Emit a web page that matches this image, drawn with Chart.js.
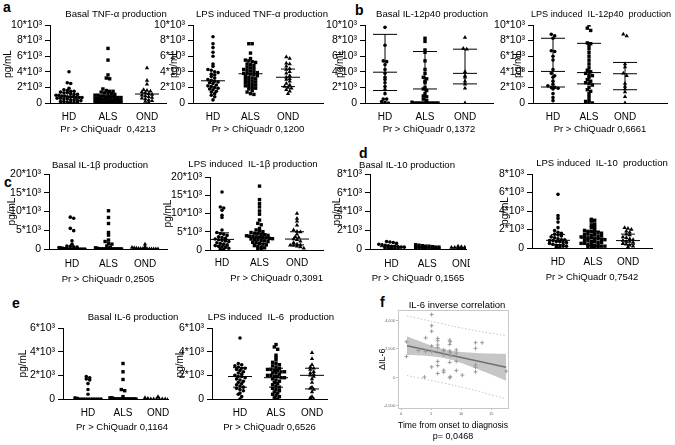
<!DOCTYPE html>
<html><head><meta charset="utf-8">
<script src="https://cdn.jsdelivr.net/npm/chart.js@4.4.0/dist/chart.umd.min.js"></script>
<style>
html,body{margin:0;padding:0;background:#fff;}
body{width:675px;height:445px;position:relative;overflow:hidden;font-family:"Liberation Sans",Arial,sans-serif;}
.lt{position:absolute;font-weight:bold;font-size:14px;line-height:14px;font-family:"Liberation Sans",Arial,sans-serif;color:#000;}
</style></head><body>
<div class="lt" style="left:3px;top:0px">a</div>
<div class="lt" style="left:355px;top:3px">b</div>
<div class="lt" style="left:4px;top:175px">c</div>
<div class="lt" style="left:359px;top:146px">d</div>
<div class="lt" style="left:12px;top:296px">e</div>
<div class="lt" style="left:380px;top:295px">f</div>
<script>
// ---------------- DATA ----------------
const groups = ['HD', 'ALS', 'OND'];
const ticks10k = [0, 2000, 4000, 6000, 8000, 10000];
const ticks20k = [0, 5000, 10000, 15000, 20000];
const ticks8k = [0, 2000, 4000, 6000, 8000];
const ticks6k = [0, 2000, 4000, 6000];

// a: TNF-alpha
const tnfBasalHD = [4000, 2600, 2500, 1900, 1700, 1600, 1500, 1500, 1400, 1300, 1300, 1200, 1100, 1100, 1000, 1000, 900, 900, 800, 800, 800, 700, 700, 700, 600, 600, 500, 500, 400, 400, 300, 300, 200, 200, 100, 100, 50, 50];
const tnfBasalALS = [7000, 5500, 3600, 3200, 3100, 1800, 1600, 1500, 1500, 1400, 1300, 1200, 1200, 1100, 1000, 1000, 900, 900, 800, 800, 800, 700, 700, 700, 600, 600, 600, 500, 500, 500, 400, 400, 400, 300, 300, 300, 300, 200, 200, 200, 200, 100, 100, 100, 100, 50, 50, 50, 50, 0, 0];
const tnfBasalOND = [4500, 2900, 2400, 1700, 1600, 1500, 1400, 1300, 1200, 1100, 1000, 900, 800, 700, 600, 500, 400, 300, 200, 100];
const tnfBasalMed = [770, 450, 1150];

const tnfLpsHD = [8500, 7600, 7100, 6500, 6000, 5000, 4700, 4300, 4200, 4000, 3900, 3700, 3600, 3400, 3200, 3000, 2900, 2800, 2700, 2600, 2500, 2300, 2200, 2100, 2000, 1900, 1800, 1700, 1500, 1400, 1200, 1000, 800, 400];
const tnfLpsALS = [7600, 7600, 6400, 5700, 5500, 5400, 5300, 5200, 5000, 4900, 4800, 4600, 4500, 4400, 4300, 4200, 4100, 4000, 3900, 3800, 3800, 3700, 3600, 3500, 3400, 3300, 3200, 3100, 3000, 2900, 2800, 2700, 2600, 2500, 2400, 2300, 2200, 2100, 2000, 1900, 1800, 1600, 1400, 1200, 1100];
const tnfLpsOND = [5900, 5700, 5100, 5000, 4700, 4400, 4300, 4000, 3800, 3500, 3300, 3100, 3000, 2800, 2500, 2300, 2100, 2000, 1900, 1700, 1500, 1200];
const tnfLpsMed = [2850, 3750, 3300];
const tnfLpsQ1 = [null, null, 2100];
const tnfLpsQ3 = [null, null, 4350];

// b: IL-12p40
const il12BasalHD = [9700, 7400, 5400, 5300, 4900, 4300, 3800, 3300, 3000, 2600, 2100, 1700, 1200, 500, 500, 200, 100, 0];
const il12BasalALS = [8300, 7900, 6800, 6500, 5400, 4300, 3800, 3300, 3100, 2800, 2600, 2000, 1800, 1600, 1200, 900, 800, 500, 300, 100, 0, 0, 0, 0, 0, 0, 0, 0, 0];
const il12BasalOND = [8400, 7000, 6900, 4000, 3500, 3300, 2800, 2400, 1900, 0];
const il12BasalLo = [1600, 0, 2450];
const il12BasalMed = [3950, 1800, 3800];
const il12BasalHi = [8800, 6600, 6900];

const il12LpsHD = [8800, 8600, 8300, 6700, 6600, 6000, 5500, 4300, 3800, 3500, 3300, 2800, 2400, 2200, 2000, 2000, 1900, 1800, 1200, 700, 300];
const il12LpsALS = [10000, 9600, 9300, 7700, 7600, 7400, 7000, 6500, 6000, 5500, 5000, 4500, 4200, 4000, 3800, 3600, 3500, 3300, 3000, 2800, 2600, 2500, 2300, 2000, 1700, 1500, 1200, 800, 400, 200, 100, 0];
const il12LpsOND = [8800, 8600, 5000, 4600, 3800, 3500, 2500, 2100, 1800, 1400, 800, 0];
const il12LpsLo = [2050, 2450, 1700];
const il12LpsMed = [4050, 3900, 3750];
const il12LpsHi = [8300, 7650, 5200];

// c: IL-1beta
const il1BasalHD = [8500, 8200, 5500, 4900, 2200, 1300, 800, 700, 600, 500, 400, 300, 200, 100, 50, 0, 0, 0, 0, 0, 0, 0, 0];
const il1BasalALS = [10200, 8400, 6800, 4400, 3700, 2400, 2000, 1500, 1300, 800, 500, 300, 200, 100, 0, 0, 0, 0, 0, 0, 0, 0, 0, 0, 0, 0, 0, 0, 0, 0];
const il1BasalOND = [1300, 600, 400, 300, 200, 150, 100, 50, 0, 0, 0, 0, 0, 0, 0];

const il1LpsHD = [15900, 11800, 11500, 10900, 9500, 8900, 5500, 4800, 4500, 4300, 4000, 3600, 3400, 3200, 3000, 2800, 2700, 2500, 2300, 2000, 1800, 1600, 1400, 1200, 1000, 900, 700, 500, 300, 100];
const il1LpsALS = [17500, 13800, 12700, 11800, 10700, 9800, 8200, 7300, 6900, 5900, 5500, 5200, 5000, 4800, 4600, 4500, 4300, 4200, 4000, 3900, 3800, 3700, 3600, 3500, 3400, 3300, 3200, 3100, 3000, 2900, 2800, 2600, 2500, 2300, 2100, 2000, 1800, 1600, 1400, 1200, 1000, 800, 600, 400, 200];
const il1LpsOND = [10000, 8600, 7900, 6800, 5500, 5100, 4900, 4300, 3600, 3400, 3000, 2800, 2400, 2000, 1600, 1400, 1300, 1200, 1000, 800, 500];
const il1LpsQ1 = [1100, 1800, 1400];
const il1LpsMed = [2900, 3400, 3000];
const il1LpsQ3 = [4700, 4500, 5000];

// d: IL-10
const il10BasalHD = [800, 750, 700, 600, 500, 450, 400, 350, 300, 300, 250, 200, 200, 150, 100, 100, 50, 0];
const il10BasalALS = [450, 400, 350, 300, 300, 250, 200, 200, 150, 150, 100, 100, 50, 50, 0, 0];
const il10BasalOND = [300, 250, 200, 200, 150, 150, 100, 100, 50, 50, 0, 0];
const il10BasalMed = [250, 150, 120];

const il10LpsHD = [5800, 3500, 3200, 2800, 2200, 1900, 1700, 1600, 1500, 1400, 1300, 1200, 1100, 1000, 900, 900, 800, 800, 700, 700, 600, 600, 500, 400, 300, 300, 200, 200, 100, 50];
const il10LpsALS = [3100, 3000, 2900, 2600, 2500, 2300, 2200, 2000, 1900, 1800, 1800, 1700, 1700, 1600, 1500, 1500, 1400, 1400, 1300, 1300, 1200, 1200, 1100, 1100, 1000, 1000, 900, 900, 800, 800, 700, 700, 600, 600, 500, 500, 400, 400, 300, 300, 200, 200, 100, 100, 50, 50];
const il10LpsOND = [2200, 2100, 2000, 1800, 1700, 1500, 1400, 1200, 1100, 1000, 900, 800, 700, 700, 600, 500, 400, 300, 200, 100];
const il10LpsQ1 = [360, 250, 400];
const il10LpsMed = [830, 1050, 800];
const il10LpsQ3 = [1450, 1800, 1500];

// e: IL-6
const il6BasalHD = [1900, 1800, 1700, 1600, 1300, 800, 400, 100, 50, 0, 0, 0, 0, 0, 0, 0, 0, 0, 0];
const il6BasalALS = [3000, 2300, 1650, 800, 700, 200, 100, 100, 50, 0, 0, 0, 0, 0, 0, 0, 0, 0, 0, 0, 0, 0, 0];
const il6BasalOND = [200, 100, 50, 0, 0, 0, 0, 0, 0, 0, 0];

const il6LpsHD = [5150, 3000, 2900, 2800, 2700, 2600, 2600, 2500, 2400, 2300, 2200, 2100, 2000, 1900, 1900, 1800, 1700, 1600, 1500, 1400, 1300, 1200, 1100, 1000, 900, 800, 700, 500, 400, 200, 0];
const il6LpsALS = [4600, 4400, 4200, 3700, 3500, 3300, 3100, 3000, 2900, 2800, 2700, 2600, 2500, 2500, 2400, 2400, 2300, 2300, 2200, 2200, 2100, 2000, 2000, 1900, 1900, 1800, 1800, 1700, 1600, 1500, 1400, 1300, 1200, 1100, 1000, 900, 800, 700, 600, 500, 400, 300, 200, 100, 0];
const il6LpsOND = [3900, 3400, 2900, 2700, 2600, 2500, 2300, 2200, 2100, 2000, 1900, 1700, 1400, 1000, 900, 800, 600, 200, 100, 0];
const il6LpsQ1 = [1000, 1000, 850];
const il6LpsMed = [1900, 1800, 2000];
const il6LpsQ3 = [2650, 2600, 2600];

// f: IL-6 correlation
const corrTime = [0.9, 0.9, 2.9, 4.1, 4.1, 3.9, 5.1, 5.1, 5.1, 5.1, 5.1, 5.1, 6.1, 6.1, 6.1, 6.1, 6.1, 6.1, 6.1, 7.1, 7.1, 7.1, 7.1, 7.1, 8.1, 8.1, 8.2, 8.1, 8.2, 8.2, 8.1, 8.2, 8.1, 9.2, 9.2, 9.2, 9.2, 10.2, 12.4, 12.4, 12.4, 12.4, 12.4, 13.5, 17.5];
const corrDIL6 = [2506, 1470, 1885, 2780, 1816, 22, 4415, 3633, 3242, 2207, 1816, 735, 2736, 2575, 2276, 2092, 1126, 827, 275, 1931, 1862, 1586, 505, 367, 2322, 2621, 2506, 1862, 1747, 1517, 1057, 45, -24, 1931, 1701, 1126, 482, 160, 2437, 2046, 873, 712, 390, 2437, 436];
const fitTime = [1, 17.5];
const fitDIL6 = [2230, 710];
const ciTime = [1, 3, 5, 7.5, 10, 12.5, 15, 17.5];
const ciHigh = [2885, 2552, 2244, 1942, 1784, 1714, 1676, 1652];
const ciLow = [1575, 1540, 1480, 1322, 1020, 630, 208, -228];
const piTime = [1, 5, 9, 13, 17.5];
const piHigh = [4330, 3942, 3566, 3236, 2932];
const piLow = [130, -218, -578, -984, -1508];
const corrXTicks = [0, 5, 10, 15];
const corrYTicks = [-2000, 0, 2000, 4000];

// ---------------- RENDERING ----------------
const F = '"Liberation Sans", Arial, sans-serif';
Chart.defaults.font.family = F;
Chart.defaults.color = '#000';

Chart.register({
  id: 'titleShift',
  afterLayout(chart, args, opts) {
    const tb = chart.titleBlock;
    if (tb && opts && opts.dx !== undefined) {
      tb.left += opts.dx - 40;
      tb.right += opts.dx + 40;
    }
  }
});

function fmtK(v) { return v === 0 ? '0' : (v / 1000) + '*10³'; }

// lay the points of one group out in rows (a dot-plot swarm), capping row width
function swarm(values, center, rowUnit, dx, maxW) {
  const rows = new Map();
  values.forEach(v => {
    const r = Math.round(v / rowUnit);
    if (!rows.has(r)) rows.set(r, []);
    rows.get(r).push(v);
  });
  const pts = [];
  rows.forEach(list => {
    const n = list.length;
    const step = n > 1 ? Math.min(dx, maxW / (n - 1)) : 0;
    list.forEach((v, i) => pts.push({ x: center + (i - (n - 1) / 2) * step, y: v }));
  });
  return pts;
}

function makeCtx(left, top, w, h) {
  const c = document.createElement('canvas');
  c.width = w; c.height = h;
  c.style.cssText = `position:absolute;left:${left}px;top:${top}px;width:${w}px;height:${h}px`;
  document.body.appendChild(c);
  return c.getContext('2d');
}

function seg(x0, x1, y0, y1) {
  return { type: 'line', data: [{ x: x0, y: y0 }, { x: x1, y: y1 }], borderColor: '#000', borderWidth: 1,
    pointRadius: 0, fill: false, tension: 0 };
}

function dotPanel(p) {
  const TF = p.titleSize || 9.6, TLH = TF;
  const YLH = 12;
  const XF = 9.5, XLH = XF * 1.2;
  const canvasLeft = Math.floor(Math.min(p.pgX - YLH / 2 - 1, p.plotL - 46));
  const canvasTop = Math.floor(p.titleY - TLH / 2);
  const tPadTop = p.titleY - TLH / 2 - canvasTop;
  const tPadBottom = Math.max(0, p.plotT - canvasTop - tPadTop - TLH);
  const Wy = p.plotL - canvasLeft;
  const padR = p.padR !== undefined ? p.padR : 6;
  const W = p.plotR + padR - canvasLeft;
  const H = Math.round(p.prY + XLH / 2 - canvasTop);
  const Hx = canvasTop + H - p.plotB;
  const pgPad = Math.max(0, p.pgX - YLH / 2 - canvasLeft);
  const unit = (p.cat[1] - p.cat[0]) / 2;
  const xmin = 1 - (p.cat[0] - p.plotL) / unit;
  const xmax = 3 + (p.plotR - p.cat[1]) / unit;
  const pxPerY = (p.plotB - p.plotT) / p.ymax;
  const rowUnit = 3.2 / pxPerY;
  const dx = 3.4 / unit;
  const maxW = 26 / unit;
  const shapes = ['circle', 'rect', 'triangle'];
  const radii = [1.8, 2.4, 2.5];
  const ds = [];
  p.groups.forEach((vals, gi) => {
    ds.push({ type: 'scatter', data: swarm(vals, gi + 1, rowUnit, dx, maxW), pointStyle: shapes[gi], pointRadius: radii[gi],
      backgroundColor: '#000', borderColor: '#000', borderWidth: 0 });
  });
  const mw = 12 / unit, qw = (p.whisker ? 12 : 7) / unit;
  for (let gi = 0; gi < 3; gi++) {
    const c = gi + 1;
    if (p.med && p.med[gi] != null) ds.push(seg(c - mw, c + mw, p.med[gi], p.med[gi]));
    if (p.q1 && p.q1[gi] != null) ds.push(seg(c - qw, c + qw, p.q1[gi], p.q1[gi]));
    if (p.q3 && p.q3[gi] != null) ds.push(seg(c - qw, c + qw, p.q3[gi], p.q3[gi]));
    if (p.whisker) ds.push(seg(c, c, p.q1[gi], p.q3[gi]));
  }
  const ctx = makeCtx(canvasLeft, canvasTop, W, H);
  const caCenter = (p.plotL + p.plotR) / 2;
  new Chart(ctx, {
    type: 'scatter',
    data: { datasets: ds },
    options: {
      responsive: false, animation: false, devicePixelRatio: 1,
      layout: { padding: { left: 0, right: padR, top: 0, bottom: 0 } },
      plugins: {
        legend: { display: false }, tooltip: { enabled: false },
        title: { display: true, text: p.title, fullSize: false, color: '#000',
          font: { size: TF, family: F, weight: 'normal', lineHeight: 1 },
          padding: { top: tPadTop, bottom: tPadBottom } },
        titleShift: { dx: p.titleX - caCenter }
      },
      scales: {
        x: {
          type: 'linear', min: xmin, max: xmax,
          afterBuildTicks: s => { s.ticks = groups.map((g, i) => ({ value: i + 1 })); },
          ticks: { autoSkip: false, maxRotation: 0, padding: p.labY - p.plotB - 6, color: '#000',
            font: { size: 10, family: F }, callback: v => groups[Math.round(v) - 1] },
          grid: { display: false, drawTicks: false },
          border: { display: true, color: '#000', width: 1 },
          title: { display: true, text: p.pr, color: '#000', font: { size: XF, family: F },
            padding: { top: 0, bottom: 0 }, align: p.prAlign || 'center' },
          afterFit: s => { s.height = Hx; s.paddingLeft = 0; s.paddingRight = 0; }
        },
        y: {
          type: 'linear', min: 0, max: p.ymax,
          afterBuildTicks: s => { s.ticks = p.yTicks.map(v => ({ value: v })); },
          ticks: { autoSkip: false, padding: 3, color: '#000', font: { size: 10.5, family: F }, callback: v => fmtK(v) },
          grid: { display: true, drawOnChartArea: false, drawTicks: true, tickLength: 5, color: '#000' },
          border: { display: true, color: '#000', width: 1 },
          title: { display: true, text: 'pg/mL', color: '#000', font: { size: 10, family: F },
            padding: { top: pgPad, bottom: 0 } },
          afterFit: s => { s.width = Wy; s.paddingTop = 0; s.paddingBottom = 0; }
        }
      }
    }
  });
}

const panels = [
  { title: 'Basal TNF-α production', pr: 'Pr > ChiQuadr  0,4213', groups: [tnfBasalHD, tnfBasalALS, tnfBasalOND],
    med: tnfBasalMed, ymax: 10000, yTicks: ticks10k,
    plotL: 50, plotR: 166, plotT: 25, plotB: 103, cat: [69, 147], titleX: 116, titleY: 14, pgX: 8, labY: 117, prY: 129 },
  { title: 'LPS induced TNF-α production', pr: 'Pr > ChiQuadr 0,1200', groups: [tnfLpsHD, tnfLpsALS, tnfLpsOND],
    med: tnfLpsMed, q1: tnfLpsQ1, q3: tnfLpsQ3, ymax: 10000, yTicks: ticks10k,
    plotL: 193, plotR: 323, plotT: 25, plotB: 103, cat: [213, 288], titleX: 262, titleY: 14, pgX: 174, labY: 117, prY: 129 },
  { title: 'Basal IL-12p40 production', pr: 'Pr > ChiQuadr 0,1372', groups: [il12BasalHD, il12BasalALS, il12BasalOND],
    med: il12BasalMed, q1: il12BasalLo, q3: il12BasalHi, whisker: true, ymax: 10000, yTicks: ticks10k,
    plotL: 365, plotR: 493, plotT: 25, plotB: 103, cat: [385, 465], titleX: 432, titleY: 14, pgX: 340, labY: 117, prY: 129 },
  { title: 'LPS induced  IL-12p40  production', pr: 'Pr > ChiQuadr 0,6661', groups: [il12LpsHD, il12LpsALS, il12LpsOND],
    med: il12LpsMed, q1: il12LpsLo, q3: il12LpsHi, whisker: true, ymax: 10000, yTicks: ticks10k,
    plotL: 533, plotR: 667, plotT: 25, plotB: 103, cat: [553, 625], titleX: 601, titleY: 14, pgX: 518, labY: 117, prY: 129, padR: 8, titleSize: 9.1 },
  { title: 'Basal IL-1β production', pr: 'Pr > ChiQuadr 0,2505', groups: [il1BasalHD, il1BasalALS, il1BasalOND],
    ymax: 20000, yTicks: ticks20k,
    plotL: 49, plotR: 167, plotT: 174, plotB: 249, cat: [72, 145], titleX: 100, titleY: 165, pgX: 12, labY: 264, prY: 279 },
  { title: 'LPS induced  IL-1β production', pr: 'Pr > ChiQuadr 0,3091', groups: [il1LpsHD, il1LpsALS, il1LpsOND],
    med: il1LpsMed, q1: il1LpsQ1, q3: il1LpsQ3, ymax: 20000, yTicks: ticks20k,
    plotL: 210, plotR: 323, plotT: 177, plotB: 250, cat: [222, 297], titleX: 253, titleY: 164, pgX: 168, labY: 263, prY: 278, prAlign: 'end', padR: 10 },
  { title: 'Basal IL-10 production', pr: 'Pr > ChiQuadr 0,1565', groups: [il10BasalHD, il10BasalALS, il10BasalOND],
    med: il10BasalMed, ymax: 8000, yTicks: ticks8k,
    plotL: 370, plotR: 468, plotT: 174, plotB: 249, cat: [392, 465], titleX: 408, titleY: 165, pgX: 337, labY: 264, prY: 278, padR: 2 },
  { title: 'LPS induced  IL-10  production', pr: 'Pr > ChiQuadr 0,7542', groups: [il10LpsHD, il10LpsALS, il10LpsOND],
    med: il10LpsMed, q1: il10LpsQ1, q3: il10LpsQ3, ymax: 8000, yTicks: ticks8k,
    plotL: 532, plotR: 652, plotT: 174, plotB: 248, cat: [558, 628], titleX: 602, titleY: 163, pgX: 505, labY: 262, prY: 277, padR: 18 },
  { title: 'Basal IL-6 production', pr: 'Pr > ChiQuadr 0,1164', groups: [il6BasalHD, il6BasalALS, il6BasalOND],
    ymax: 6000, yTicks: ticks6k,
    plotL: 63, plotR: 168, plotT: 328, plotB: 399, cat: [88, 158], titleX: 133, titleY: 317, pgX: 23, labY: 413, prY: 427, prAlign: 'end', padR: 16 },
  { title: 'LPS induced  IL-6  production', pr: 'Pr > ChiQuadr 0,6526', groups: [il6LpsHD, il6LpsALS, il6LpsOND],
    med: il6LpsMed, q1: il6LpsQ1, q3: il6LpsQ3, ymax: 6000, yTicks: ticks6k,
    plotL: 212, plotR: 327, plotT: 328, plotB: 399, cat: [240, 312], titleX: 271, titleY: 317, pgX: 180, labY: 413, prY: 427, padR: 10 }
];
panels.forEach(dotPanel);

// ---- panel f ----
(function () {
  const plotL = 398, plotR = 508, plotT = 310, plotB = 408;
  const canvasLeft = 377, canvasTop = 300, padR = 14;
  const W = plotR + padR - canvasLeft, H = 142;
  const Wy = plotL - canvasLeft, Hx = canvasTop + H - plotB;
  const pts = corrTime.map((t, i) => ({ x: t, y: corrDIL6[i] }));
  const xy = (xs, ys) => xs.map((x, i) => ({ x: x, y: ys[i] }));
  const ctx = makeCtx(canvasLeft, canvasTop, W, H);
  new Chart(ctx, {
    type: 'scatter',
    data: { datasets: [
      { type: 'scatter', data: pts, pointStyle: 'cross', pointRadius: 2, borderColor: '#9a9a9a', borderWidth: 1, backgroundColor: '#9a9a9a' },
      { type: 'line', data: xy(fitTime, fitDIL6), borderColor: '#707070', borderWidth: 1.5, pointRadius: 0, fill: false },
      { type: 'line', data: xy(piTime, piHigh), borderColor: '#c4c4c4', borderWidth: 1, borderDash: [1.5, 2], pointRadius: 0, fill: false, tension: 0.3 },
      { type: 'line', data: xy(piTime, piLow), borderColor: '#c4c4c4', borderWidth: 1, borderDash: [1.5, 2], pointRadius: 0, fill: false, tension: 0.3 },
      { type: 'line', data: xy(ciTime, ciHigh), borderWidth: 0, borderColor: 'rgba(0,0,0,0)', pointRadius: 0, fill: '+1', backgroundColor: '#c6c6c6', tension: 0.3 },
      { type: 'line', data: xy(ciTime, ciLow), borderWidth: 0, borderColor: 'rgba(0,0,0,0)', pointRadius: 0, fill: false, tension: 0.3 }
    ] },
    options: {
      responsive: false, animation: false, devicePixelRatio: 1,
      layout: { padding: { left: 0, right: padR, top: 0, bottom: 0 } },
      plugins: {
        legend: { display: false }, tooltip: { enabled: false },
        title: { display: true, text: 'IL-6 inverse correlation', fullSize: false, color: '#000',
          font: { size: 9.5, family: F, weight: 'normal', lineHeight: 1 }, padding: { top: 0.5, bottom: 0.5 } },
        titleShift: { dx: 457 - (plotL + plotR) / 2 }
      },
      scales: {
        x: {
          type: 'linear', min: -0.5, max: 17.8,
          afterBuildTicks: s => { s.ticks = corrXTicks.map(v => ({ value: v })); },
          ticks: { autoSkip: false, maxRotation: 0, padding: 1, color: '#666', font: { size: 4, family: F } },
          grid: { display: true, drawOnChartArea: false, drawTicks: true, tickLength: 2, color: '#bbb' },
          border: { display: true, color: '#c8c8c8', width: 1 },
          title: { display: true, text: ['Time from onset to diagnosis', 'p= 0,0468'], color: '#000',
            font: { size: 9, family: F }, padding: { top: 0, bottom: 0 } },
          afterFit: s => { s.height = Hx; s.paddingLeft = 0; s.paddingRight = 0; }
        },
        y: {
          type: 'linear', min: -2150, max: 4700,
          afterBuildTicks: s => { s.ticks = corrYTicks.map(v => ({ value: v })); },
          ticks: { autoSkip: false, padding: 1, color: '#666', font: { size: 4, family: F } },
          grid: { display: true, drawOnChartArea: false, drawTicks: true, tickLength: 2, color: '#bbb' },
          border: { display: true, color: '#c8c8c8', width: 1 },
          title: { display: true, text: 'ΔIL-6', color: '#000', font: { size: 9, family: F }, padding: { top: 0.6, bottom: 0 } },
          afterFit: s => { s.width = Wy; s.paddingTop = 0; s.paddingBottom = 0; }
        },
        x2: { type: 'linear', position: 'top', min: -0.5, max: 17.8, ticks: { display: false }, grid: { display: false, drawTicks: false },
          border: { display: true, color: '#c8c8c8', width: 1 }, afterFit: s => { s.height = 0; s.paddingLeft = 0; s.paddingRight = 0; } },
        y2: { type: 'linear', position: 'right', min: -2150, max: 4700, ticks: { display: false }, grid: { display: false, drawTicks: false },
          border: { display: true, color: '#c8c8c8', width: 1 }, afterFit: s => { s.width = 0; s.paddingTop = 0; s.paddingBottom = 0; } }
      }
    }
  });
})();
</script>
</body></html>
